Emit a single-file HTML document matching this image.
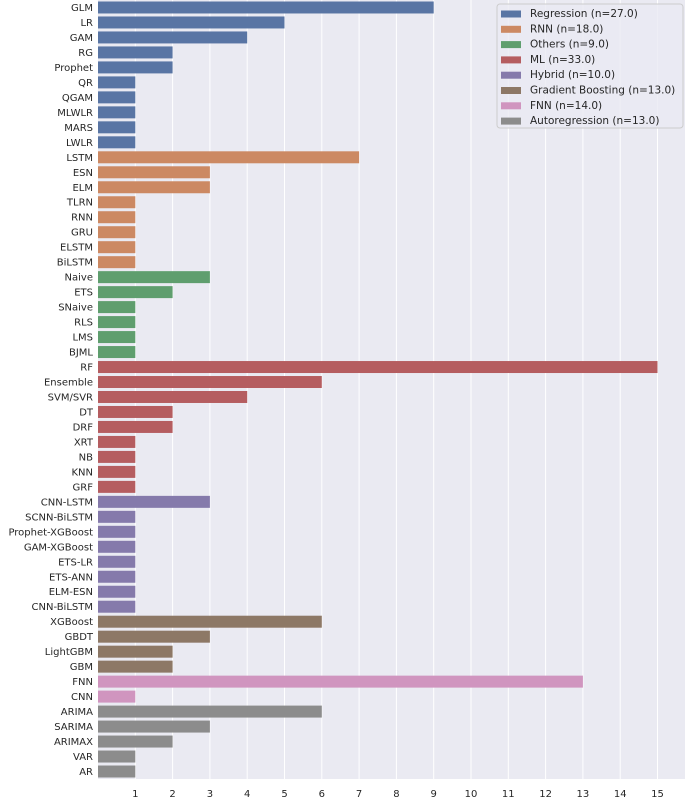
<!DOCTYPE html>
<html><head><meta charset="utf-8"><style>
body{margin:0;background:#fff;font-family:"DejaVu Sans","Liberation Sans",sans-serif;}
svg text{font-family:"DejaVu Sans","Liberation Sans",sans-serif;font-size:10px;fill:#262626;}
svg text.lg{font-size:10.5px;}
</style></head><body>
<svg id="chart" width="685" height="798"></svg>
<script>
const categories=["GLM","LR","GAM","RG","Prophet","QR","QGAM","MLWLR","MARS","LWLR","LSTM","ESN","ELM","TLRN","RNN","GRU","ELSTM","BiLSTM","Naive","ETS","SNaive","RLS","LMS","BJML","RF","Ensemble","SVM/SVR","DT","DRF","XRT","NB","KNN","GRF","CNN-LSTM","SCNN-BiLSTM","Prophet-XGBoost","GAM-XGBoost","ETS-LR","ETS-ANN","ELM-ESN","CNN-BiLSTM","XGBoost","GBDT","LightGBM","GBM","FNN","CNN","ARIMA","SARIMA","ARIMAX","VAR","AR"];
const values=[9,5,4,2,2,1,1,1,1,1,7,3,3,1,1,1,1,1,3,2,1,1,1,1,15,6,4,2,2,1,1,1,1,3,1,1,1,1,1,1,1,6,3,2,2,13,1,6,3,2,1,1];
const groups=[0,0,0,0,0,0,0,0,0,0,1,1,1,1,1,1,1,1,2,2,2,2,2,2,3,3,3,3,3,3,3,3,3,4,4,4,4,4,4,4,4,5,5,5,5,6,6,7,7,7,7,7];
const groupNames=["Regression (n=27.0)","RNN (n=18.0)","Others (n=9.0)","ML (n=33.0)","Hybrid (n=10.0)","Gradient Boosting (n=13.0)","FNN (n=14.0)","Autoregression (n=13.0)"];
const colors=["#5975a4","#cc8963","#5f9e6e","#b55d60","#857aab","#8d7866","#d095bf","#8c8c8c"];
const xTicks=[1,2,3,4,5,6,7,8,9,10,11,12,13,14,15];
const NS="http://www.w3.org/2000/svg";
const svg=document.getElementById('chart');
const L=98,R=685,T=0,B=779,unit=37.3;
const x=v=>L+v*unit;
const band=(B-T)/categories.length;
const y=i=>T+i*band;
function mk(t,a){const e=document.createElementNS(NS,t);for(const k in a)e.setAttribute(k,a[k]);svg.appendChild(e);return e;}
const bg=mk('rect',{x:L,y:T,width:R-L,height:B-T,fill:'#eaeaf2'});


xTicks.forEach(t=>{
  const g=mk('line',{x1:x(t),x2:x(t),y1:T,y2:B,stroke:'#fff','stroke-width':1});
  
  
  const tx=mk('text',{x:x(t),y:797,'text-anchor':'middle'});tx.textContent=t;
  
  
});
categories.forEach((c,i)=>{
  const bh=band*0.8;
  const r=mk('rect',{x:x(0),y:y(i)+band*0.1,width:x(values[i])-x(0),height:bh,fill:colors[groups[i]]});
  
  
  const t=mk('text',{x:L-5,y:y(i)+band/2+3.5,'text-anchor':'end'});t.textContent=c;
  
  
});
const lg=mk('rect',{x:497,y:4,width:186,height:124,fill:'#eaeaf2',stroke:'#ccc','fill-opacity':0.8,rx:3});


groupNames.forEach((n,i)=>{
  const yy=13.5+i*15.3;
  const s=mk('rect',{x:501,y:yy-3,width:20,height:7,fill:colors[i]});
  
  
  const t=mk('text',{x:530,y:yy+3.5,'class':'lg'});t.textContent=n;
  
  
});
</script>
</body></html>
